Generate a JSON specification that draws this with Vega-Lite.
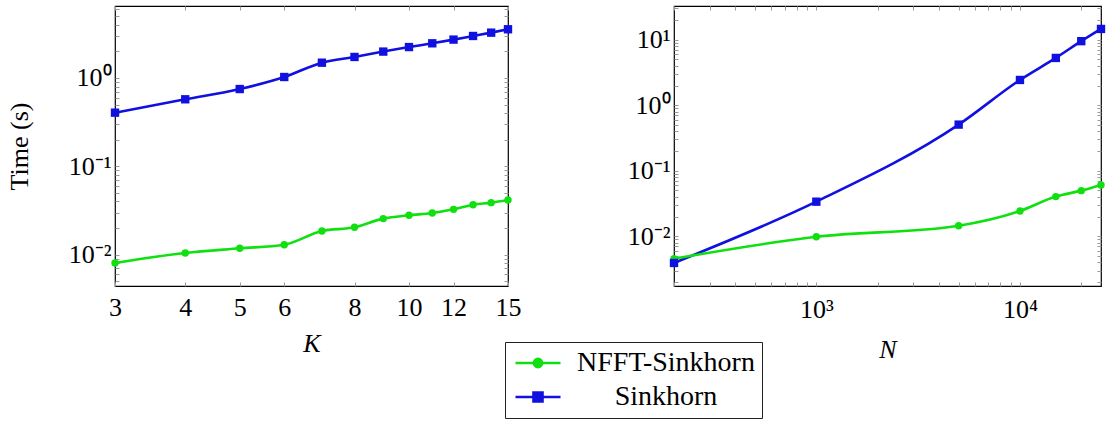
{
  "$schema": "https://vega.github.io/schema/vega-lite/v6.json",
  "padding": {"left": 5, "top": 4, "right": 5, "bottom": 2},
  "config": {
    "font": "Liberation Serif",
    "view": {"stroke": "black", "strokeWidth": 1.2},
    "axis": {
      "grid": false, "domain": false, "minExtent": 0,
      "labelFont": "Liberation Serif", "labelFontSize": 26, "labelColor": "black",
      "titleFont": "Liberation Serif", "titleFontSize": 26, "titleColor": "black", "titleFontWeight": "normal",
      "tickColor": "#9a9a9a", "tickSize": -4, "tickWidth": 1, "labelOverlap": false, "labelBound": false, "labelFlush": false
    },
    "legend": {"labelFont": "Liberation Serif"}
  },
  "datasets": {
    "left": [
      {"K": 3, "method": "Sinkhorn", "time": 0.405},
      {"K": 4, "method": "Sinkhorn", "time": 0.574},
      {"K": 5, "method": "Sinkhorn", "time": 0.75},
      {"K": 6, "method": "Sinkhorn", "time": 1.026},
      {"K": 7, "method": "Sinkhorn", "time": 1.49},
      {"K": 8, "method": "Sinkhorn", "time": 1.73},
      {"K": 9, "method": "Sinkhorn", "time": 1.99},
      {"K": 10, "method": "Sinkhorn", "time": 2.24},
      {"K": 11, "method": "Sinkhorn", "time": 2.47},
      {"K": 12, "method": "Sinkhorn", "time": 2.72},
      {"K": 13, "method": "Sinkhorn", "time": 2.99},
      {"K": 14, "method": "Sinkhorn", "time": 3.26},
      {"K": 15, "method": "Sinkhorn", "time": 3.56},
      {"K": 3, "method": "NFFT-Sinkhorn", "time": 0.00805},
      {"K": 4, "method": "NFFT-Sinkhorn", "time": 0.01045},
      {"K": 5, "method": "NFFT-Sinkhorn", "time": 0.0118},
      {"K": 6, "method": "NFFT-Sinkhorn", "time": 0.01297},
      {"K": 7, "method": "NFFT-Sinkhorn", "time": 0.01853},
      {"K": 8, "method": "NFFT-Sinkhorn", "time": 0.0204},
      {"K": 9, "method": "NFFT-Sinkhorn", "time": 0.0256},
      {"K": 10, "method": "NFFT-Sinkhorn", "time": 0.0279},
      {"K": 11, "method": "NFFT-Sinkhorn", "time": 0.0296},
      {"K": 12, "method": "NFFT-Sinkhorn", "time": 0.0326},
      {"K": 13, "method": "NFFT-Sinkhorn", "time": 0.0368},
      {"K": 14, "method": "NFFT-Sinkhorn", "time": 0.0388},
      {"K": 15, "method": "NFFT-Sinkhorn", "time": 0.0416}
    ],
    "right": [
      {"N": 200, "method": "Sinkhorn", "time": 0.00391},
      {"N": 1000, "method": "Sinkhorn", "time": 0.0337},
      {"N": 5000, "method": "Sinkhorn", "time": 0.506},
      {"N": 10000, "method": "Sinkhorn", "time": 2.43},
      {"N": 15000, "method": "Sinkhorn", "time": 5.27},
      {"N": 20000, "method": "Sinkhorn", "time": 9.5},
      {"N": 25000, "method": "Sinkhorn", "time": 14.6},
      {"N": 200, "method": "NFFT-Sinkhorn", "time": 0.00455},
      {"N": 1000, "method": "NFFT-Sinkhorn", "time": 0.0098},
      {"N": 5000, "method": "NFFT-Sinkhorn", "time": 0.0145},
      {"N": 10000, "method": "NFFT-Sinkhorn", "time": 0.0243},
      {"N": 15000, "method": "NFFT-Sinkhorn", "time": 0.0403},
      {"N": 20000, "method": "NFFT-Sinkhorn", "time": 0.0497},
      {"N": 25000, "method": "NFFT-Sinkhorn", "time": 0.0607}
    ]
  },
  "spacing": 104,
  "hconcat": [
    {
      "width": 393, "height": 280,
      "data": {"name": "left"},
      "resolve": {"axis": {"x": "independent", "y": "independent"}},
      "encoding": {
        "x": {"field": "K", "type": "quantitative", "scale": {"type": "log", "domain": [3, 15], "nice": false}},
        "y": {"field": "time", "type": "quantitative", "scale": {"type": "log", "domain": [0.00442, 6.53], "nice": false}}
      },
      "layer": [
        {
          "mark": {"type": "line", "interpolate": "monotone", "strokeWidth": 2.6},
          "encoding": {
            "x": {"field": "K", "type": "quantitative",
              "axis": {"title": "K", "titleFontStyle": "italic", "values": [3, 4, 5, 6, 8, 10, 12, 15], "labelFont": "Liberation Serif", "labelPadding": 12, "titlePadding": 10}},
            "y": {"field": "time", "type": "quantitative",
              "axis": {"title": "Time (s)", "titlePadding": 36, "labelPadding": 8, "labelFont": "Liberation Serif",
                "values": [0.005, 0.006, 0.007, 0.008, 0.009, 0.01, 0.02, 0.03, 0.04, 0.05, 0.06, 0.07, 0.08, 0.09, 0.1, 0.2, 0.3, 0.4, 0.5, 0.6, 0.7, 0.8, 0.9, 1, 2, 3, 4, 5, 6],
                "labelFontSize": {"condition": {"test": "datum.value == 1 || datum.value == 0.1 || datum.value == 0.01", "value": 26}, "value": 0},
                "labelExpr": "datum.value == 1 ? '10⁰' : datum.value == 0.1 ? '10⁻¹' : datum.value == 0.01 ? '10⁻²' : ''"}},
            "color": {"field": "method", "type": "nominal",
              "scale": {"domain": ["NFFT-Sinkhorn", "Sinkhorn"], "range": ["#10e010", "#1010e0"]},
              "legend": {
                "title": null, "orient": "none", "legendX": 390, "legendY": 336,
                "strokeColor": "#222", "fillColor": "white", "padding": 7,
                "labelFontSize": 28, "labelColor": "black", "labelLimit": 400, "labelAlign": "center",
                "symbolSize": 225, "symbolStrokeWidth": 2.6, "symbolOffset": 12, "labelOffset": 114, "rowPadding": 6,
                "symbolType": "M-3,0H3M0.55,0A0.55,0.55,0,1,1,-0.55,0A0.55,0.55,0,1,1,0.55,0Z",
                "encode": {"symbols": {"update": {
                  "shape": {"signal": "datum.value === 'Sinkhorn' ? 'M-3,0H3M-0.6,-0.6H0.6V0.6H-0.6Z' : 'M-3,0H3M0.55,0A0.55,0.55,0,1,1,-0.55,0A0.55,0.55,0,1,1,0.55,0Z'"},
                  "fill": {"signal": "datum.value === 'Sinkhorn' ? '#1010e0' : '#10e010'"},
                  "fillOpacity": {"value": 1},
                  "stroke": {"signal": "datum.value === 'Sinkhorn' ? '#1010e0' : '#10e010'"},
                  "strokeOpacity": {"value": 1},
                  "strokeWidth": {"value": 2.6},
                  "opacity": {"value": 1}
                }}}
              }}
          }
        },
        {
          "transform": [{"filter": "datum.method === 'NFFT-Sinkhorn'"}],
          "mark": {"type": "point", "filled": true, "opacity": 1, "shape": "circle", "size": 55, "color": "#10e010"},
          "encoding": {
            "x": {"field": "K", "type": "quantitative",
              "axis": {"orient": "top", "title": null, "labels": false, "values": [3, 4, 5, 6, 8, 10, 12, 15]}},
            "y": {"field": "time", "type": "quantitative",
              "axis": {"orient": "right", "title": null, "labels": false,
                "values": [0.005, 0.006, 0.007, 0.008, 0.009, 0.01, 0.02, 0.03, 0.04, 0.05, 0.06, 0.07, 0.08, 0.09, 0.1, 0.2, 0.3, 0.4, 0.5, 0.6, 0.7, 0.8, 0.9, 1, 2, 3, 4, 5, 6]}}
          }
        },
        {
          "transform": [{"filter": "datum.method === 'Sinkhorn'"}],
          "mark": {"type": "point", "filled": true, "opacity": 1, "shape": "square", "size": 70, "color": "#1010e0"},
          "encoding": {
            "x": {"field": "K", "type": "quantitative", "axis": null},
            "y": {"field": "time", "type": "quantitative", "axis": null}
          }
        }
      ]
    },
    {
      "width": 427, "height": 280,
      "data": {"name": "right"},
      "resolve": {"axis": {"x": "independent", "y": "independent"}},
      "encoding": {
        "x": {"field": "N", "type": "quantitative", "scale": {"type": "log", "domain": [200, 25000], "nice": false}},
        "y": {"field": "time", "type": "quantitative", "scale": {"type": "log", "domain": [0.00174, 32.7], "nice": false}}
      },
      "layer": [
        {
          "mark": {"type": "line", "interpolate": "monotone", "strokeWidth": 2.6},
          "encoding": {
            "x": {"field": "N", "type": "quantitative",
              "axis": {"title": "N", "titleFontStyle": "italic", "labelPadding": 14, "titlePadding": 14, "labelFont": "Liberation Serif",
                "values": [200, 300, 400, 500, 600, 700, 800, 900, 1000, 2000, 3000, 4000, 5000, 6000, 7000, 8000, 9000, 10000, 20000],
                "labelFontSize": {"condition": {"test": "datum.value == 1000 || datum.value == 10000", "value": 26}, "value": 0},
                "labelExpr": "datum.value == 1000 ? '10³' : datum.value == 10000 ? '10⁴' : ''"}},
            "y": {"field": "time", "type": "quantitative",
              "axis": {"title": null, "labelPadding": 8, "labelFont": "Liberation Serif",
                "values": [0.002, 0.003, 0.004, 0.005, 0.006, 0.007, 0.008, 0.009, 0.01, 0.02, 0.03, 0.04, 0.05, 0.06, 0.07, 0.08, 0.09, 0.1, 0.2, 0.3, 0.4, 0.5, 0.6, 0.7, 0.8, 0.9, 1, 2, 3, 4, 5, 6, 7, 8, 9, 10, 20, 30],
                "labelFontSize": {"condition": {"test": "datum.value == 10 || datum.value == 1 || datum.value == 0.1 || datum.value == 0.01", "value": 26}, "value": 0},
                "labelExpr": "datum.value == 10 ? '10¹' : datum.value == 1 ? '10⁰' : datum.value == 0.1 ? '10⁻¹' : datum.value == 0.01 ? '10⁻²' : ''"}},
            "color": {"field": "method", "type": "nominal"}
          }
        },
        {
          "transform": [{"filter": "datum.method === 'NFFT-Sinkhorn'"}],
          "mark": {"type": "point", "filled": true, "opacity": 1, "shape": "circle", "size": 55, "color": "#10e010"},
          "encoding": {
            "x": {"field": "N", "type": "quantitative",
              "axis": {"orient": "top", "title": null, "labels": false,
                "values": [200, 300, 400, 500, 600, 700, 800, 900, 1000, 2000, 3000, 4000, 5000, 6000, 7000, 8000, 9000, 10000, 20000]}},
            "y": {"field": "time", "type": "quantitative",
              "axis": {"orient": "right", "title": null, "labels": false,
                "values": [0.002, 0.003, 0.004, 0.005, 0.006, 0.007, 0.008, 0.009, 0.01, 0.02, 0.03, 0.04, 0.05, 0.06, 0.07, 0.08, 0.09, 0.1, 0.2, 0.3, 0.4, 0.5, 0.6, 0.7, 0.8, 0.9, 1, 2, 3, 4, 5, 6, 7, 8, 9, 10, 20, 30]}}
          }
        },
        {
          "transform": [{"filter": "datum.method === 'Sinkhorn'"}],
          "mark": {"type": "point", "filled": true, "opacity": 1, "shape": "square", "size": 70, "color": "#1010e0"},
          "encoding": {
            "x": {"field": "N", "type": "quantitative", "axis": null},
            "y": {"field": "time", "type": "quantitative", "axis": null}
          }
        }
      ]
    }
  ]
}
